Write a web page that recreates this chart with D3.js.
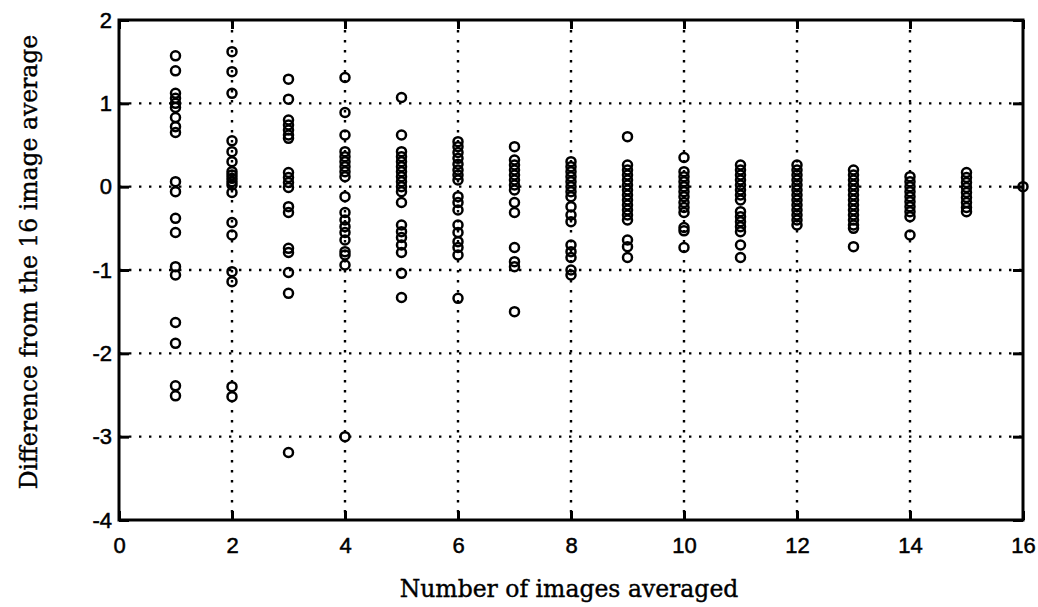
<!DOCTYPE html>
<html>
<head>
<meta charset="utf-8">
<script src="https://cdn.jsdelivr.net/npm/d3@7"></script>
<style>
  body { margin: 0; background: #fff; }
  svg { display: block; }
</style>
</head>
<body>
<svg id="chart" width="1038" height="607"></svg>
<script>
// number of images averaged (x) and the differences read for each
let nImages = [1, 2, 3, 4, 5, 6, 7, 8, 9, 10, 11, 12, 13, 14, 15, 16];
let diffs = [
  [1.57, 1.39, 1.12, 1.06, 1.0, 0.95, 0.83, 0.72, 0.65, 0.06, -0.06, -0.38, -0.55, -0.96, -1.06, -1.63, -1.88, -2.39, -2.51],
  [1.62, 1.38, 1.12, 0.55, 0.42, 0.30, 0.18, 0.14, 0.10, 0.06, 0.02, -0.07, -0.43, -0.58, -1.02, -1.14, -2.40, -2.52],
  [1.29, 1.05, 0.80, 0.74, 0.68, 0.62, 0.58, 0.17, 0.11, 0.05, -0.01, -0.24, -0.31, -0.74, -0.79, -1.03, -1.28, -3.19],
  [1.31, 0.89, 0.62, 0.42, 0.36, 0.30, 0.24, 0.18, 0.12, -0.12, -0.31, -0.40, -0.48, -0.55, -0.64, -0.78, -0.82, -0.94, -3.0],
  [1.07, 0.62, 0.42, 0.36, 0.30, 0.24, 0.18, 0.12, 0.06, 0.0, -0.06, -0.19, -0.46, -0.54, -0.61, -0.70, -0.79, -1.04, -1.33],
  [0.54, 0.48, 0.41, 0.34, 0.27, 0.20, 0.14, 0.08, -0.12, -0.19, -0.28, -0.46, -0.55, -0.66, -0.73, -0.82, -1.34],
  [0.48, 0.32, 0.26, 0.20, 0.14, 0.08, 0.02, -0.04, -0.19, -0.31, -0.73, -0.90, -0.96, -1.50],
  [0.30, 0.24, 0.18, 0.12, 0.06, 0.0, -0.06, -0.12, -0.24, -0.34, -0.42, -0.70, -0.78, -0.85, -1.0, -1.06],
  [0.60, 0.26, 0.20, 0.14, 0.08, 0.02, -0.04, -0.10, -0.16, -0.22, -0.28, -0.34, -0.40, -0.64, -0.72, -0.85],
  [0.35, 0.18, 0.12, 0.06, 0.0, -0.06, -0.12, -0.19, -0.25, -0.31, -0.49, -0.53, -0.73],
  [0.26, 0.20, 0.14, 0.08, 0.02, -0.04, -0.10, -0.16, -0.30, -0.36, -0.42, -0.48, -0.54, -0.70, -0.85],
  [0.26, 0.20, 0.14, 0.08, 0.02, -0.04, -0.10, -0.16, -0.22, -0.28, -0.34, -0.40, -0.46],
  [0.20, 0.14, 0.08, 0.02, -0.04, -0.10, -0.16, -0.22, -0.28, -0.34, -0.40, -0.46, -0.50, -0.72],
  [0.12, 0.06, 0.0, -0.06, -0.12, -0.18, -0.24, -0.30, -0.36, -0.58],
  [0.17, 0.11, 0.05, -0.01, -0.07, -0.13, -0.19, -0.25, -0.30],
  [0.0]
];
let xTicks = [0, 2, 4, 6, 8, 10, 12, 14, 16];
let yTicks = [-4, -3, -2, -1, 0, 1, 2];
let xTitle = 'Number of images averaged';
let yTitle = 'Difference from the 16 image average';

// flatten to points
let points = [];
nImages.forEach(function(n, i){
  diffs[i].forEach(function(v){ points.push({n: n, v: v}); });
});

let svg = d3.select('#chart');
let margin = {top: 20, right: 15, bottom: 87, left: 119};
let W = 1038, H = 607;

let x = d3.scaleLinear()
    .domain([0, 16])
    .range([margin.left, W - margin.right]);

let y = d3.scaleLinear()
    .domain([-4, 2])
    .range([H - margin.bottom, margin.top]);

// plain hyphen for negatives, like the original
let fmt = function(d){ return String(d); };

// dotted grid
let grid = svg.append('g').attr('class', 'grid')
    .attr('stroke', '#000')
    .attr('stroke-width', 2.4)
    .attr('stroke-dasharray', '2.4,7.6');

grid.selectAll('line.gx')
  .data(xTicks.slice(1, -1))
  .enter().append('line')
    .attr('class', 'gx')
    .attr('x1', function(d){ return x(d); })
    .attr('x2', function(d){ return x(d); })
    .attr('y1', y(2))
    .attr('y2', y(-4));

grid.selectAll('line.gy')
  .data(yTicks.slice(1, -1))
  .enter().append('line')
    .attr('class', 'gy')
    .attr('y1', function(d){ return y(d); })
    .attr('y2', function(d){ return y(d); })
    .attr('x1', x(0))
    .attr('x2', x(16));

// axes: ticks inward on all four sides
function styleAxis(g){
  g.select('.domain').remove();
  g.selectAll('.tick line').attr('stroke', '#000').attr('stroke-width', 3);
  g.selectAll('.tick text')
    .attr('font-family', 'Liberation Sans, Arial, sans-serif')
    .attr('font-size', 22)
    .attr('fill', '#000')
    .attr('stroke', '#000')
    .attr('stroke-width', 0.5);
}

svg.append('g')
    .attr('transform', 'translate(0,' + y(-4) + ')')
    .call(d3.axisBottom(x).tickValues(xTicks).tickSize(-9).tickPadding(17).tickFormat(fmt))
    .call(styleAxis);

svg.append('g')
    .attr('transform', 'translate(0,' + y(2) + ')')
    .call(d3.axisTop(x).tickValues(xTicks).tickSize(-9).tickFormat(''))
    .call(styleAxis);

svg.append('g')
    .attr('transform', 'translate(' + x(0) + ',0)')
    .call(d3.axisLeft(y).tickValues(yTicks).tickSize(-10).tickPadding(7).tickFormat(fmt))
    .call(styleAxis);

svg.append('g')
    .attr('transform', 'translate(' + x(16) + ',0)')
    .call(d3.axisRight(y).tickValues(yTicks).tickSize(-10).tickFormat(''))
    .call(styleAxis);

// frame
svg.append('rect')
    .attr('x', x(0))
    .attr('y', y(2))
    .attr('width', x(16) - x(0))
    .attr('height', y(-4) - y(2))
    .attr('fill', 'none')
    .attr('stroke', '#000')
    .attr('stroke-width', 3);

// markers
svg.append('g').attr('class', 'pts')
  .selectAll('circle')
  .data(points)
  .enter().append('circle')
    .attr('cx', function(d){ return x(d.n); })
    .attr('cy', function(d){ return y(d.v); })
    .attr('r', 4.5)
    .attr('fill', 'none')
    .attr('stroke', '#000')
    .attr('stroke-width', 2.5);

// titles
svg.append('text')
    .attr('x', 569)
    .attr('y', 597)
    .attr('text-anchor', 'middle')
    .attr('font-family', 'DejaVu Serif, serif')
    .attr('font-size', 23.5)
    .attr('fill', '#000')
    .attr('stroke', '#000')
    .attr('stroke-width', 0.4)
    .text(xTitle);

svg.append('text')
    .attr('transform', 'translate(37,' + 262 + ') rotate(-90)')
    .attr('text-anchor', 'middle')
    .attr('font-family', 'DejaVu Serif, serif')
    .attr('font-size', 23.5)
    .attr('fill', '#000')
    .attr('stroke', '#000')
    .attr('stroke-width', 0.4)
    .text(yTitle);
</script>
</body>
</html>
